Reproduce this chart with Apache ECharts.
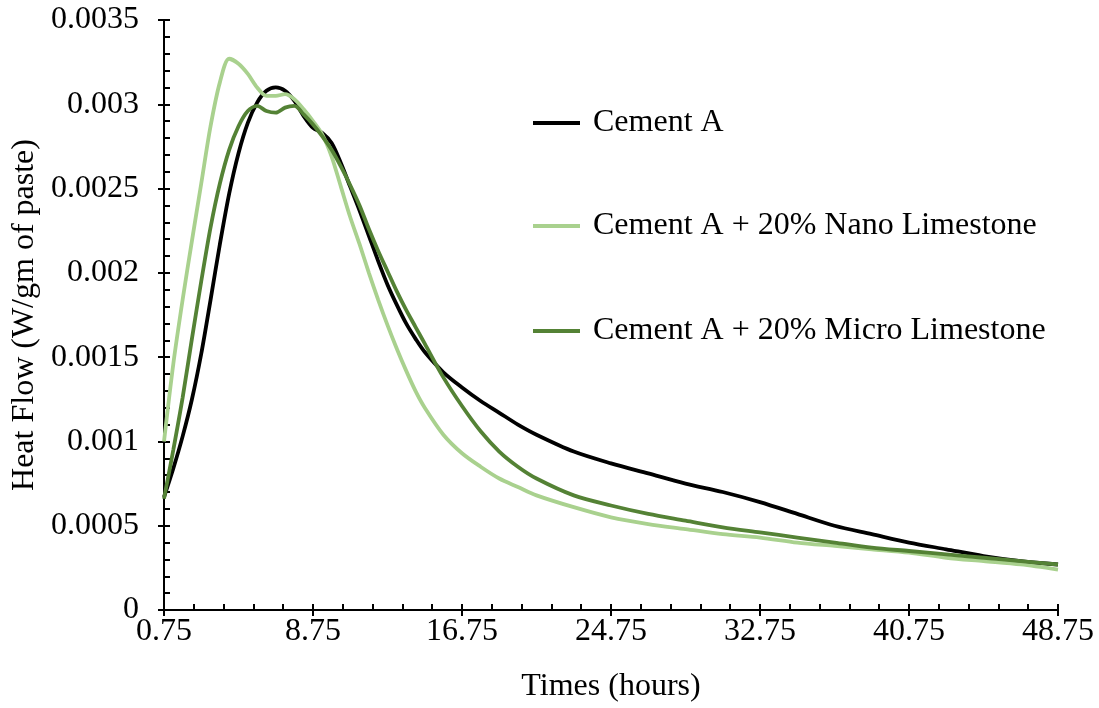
<!DOCTYPE html>
<html>
<head>
<meta charset="utf-8">
<title>Heat Flow</title>
<script src="https://cdn.jsdelivr.net/npm/echarts@6/dist/echarts.min.js"></script>
<style>
  html, body { margin: 0; padding: 0; background: #ffffff; }
  #chart { width: 1099px; height: 708px; }
</style>
</head>
<body>
<div id="chart"></div>
<script>
// Isothermal calorimetry: heat flow of cement pastes over the first two days.

// The time axis starts at the first reading (0.75 h); positions are measured from it.
const START_HOUR = 0.75;

const seriesNames = [
  'Cement A',
  'Cement A + 20% Nano Limestone',
  'Cement A + 20% Micro Limestone'
];

// Reading times (hours), shared by all three pastes
const hours = [
  0.75, 1.25, 1.75, 2.25, 2.75, 3.25, 3.75, 4.25, 4.75, 5.25, 5.75, 6.25, 6.75, 7.25, 7.75, 8.25,
  8.75, 9.25, 9.75, 10.25, 10.75, 11.25, 11.75, 12.25, 12.75, 13.25, 13.75, 14.25, 14.75,
  15.75, 16.75, 17.75, 18.75, 19.75, 20.75, 22.75, 24.75, 26.75, 28.75, 30.75, 32.75,
  34.75, 36.75, 38.75, 40.75, 42.75, 44.75, 46.75, 48.75
];

// Heat flow, W/gm of paste
const cementAFlow = [
  0.00067, 0.00084, 0.00103, 0.00125, 0.00152, 0.00184, 0.00217, 0.00247, 0.00271, 0.00289, 0.00301,
  0.00308, 0.00310, 0.00308, 0.00302, 0.00293, 0.00286, 0.00283, 0.00277, 0.00265, 0.00251, 0.00237,
  0.00222, 0.00207, 0.00193, 0.00181, 0.00170, 0.00161, 0.00153,
  0.00141, 0.00132, 0.00124, 0.00117, 0.00110, 0.00104, 0.00094, 0.00087, 0.00081, 0.00075, 0.00070,
  0.00064, 0.00057, 0.00050, 0.00045, 0.00040, 0.00036, 0.00032, 0.00029, 0.00027
];

const nanoFlow = [
  0.00100, 0.00146, 0.00184, 0.00219, 0.00253, 0.00287, 0.00313, 0.00327, 0.00324, 0.00318, 0.00310,
  0.00305, 0.00305, 0.00306, 0.00303, 0.00297, 0.00290, 0.00282, 0.00269, 0.00251, 0.00233, 0.00217,
  0.00200, 0.00184, 0.00169, 0.00155, 0.00142, 0.00130, 0.00120,
  0.00104, 0.00093, 0.00085, 0.00078, 0.00073, 0.00068, 0.00061, 0.00055, 0.00051, 0.00048, 0.00045,
  0.00043, 0.00040, 0.00038, 0.00036, 0.00034, 0.00031, 0.00029, 0.00027, 0.00024
];

const microFlow = [
  0.00066, 0.00095, 0.00126, 0.00161, 0.00195, 0.00227, 0.00253, 0.00273, 0.00287, 0.00296, 0.00299,
  0.00296, 0.00295, 0.00298, 0.00299, 0.00294, 0.00288, 0.00281, 0.00273, 0.00263, 0.00252, 0.00240,
  0.00226, 0.00213, 0.00201, 0.00189, 0.00178, 0.00168, 0.00158,
  0.00138, 0.00121, 0.00106, 0.00094, 0.00085, 0.00078, 0.00068, 0.00062, 0.00057, 0.00053, 0.00049,
  0.00046, 0.00043, 0.00040, 0.00037, 0.00035, 0.00033, 0.00031, 0.00029, 0.00027
];

const seriesColors = ['#000000', '#a9d18e', '#548235'];

const FONT = "'Liberation Serif', 'Times New Roman', serif";
const FONT_SIZE = 32;

function pairs(flows) {
  return hours.map((t, i) => [t - START_HOUR, flows[i]]);
}

const chart = echarts.init(document.getElementById('chart'), null, { renderer: 'canvas' });

const axisColor = '#000000';
const hourLabel = v => (v + START_HOUR).toFixed(2);
const flowLabel = v => String(parseFloat(v.toFixed(4)));

// vertical centre of each legend row
const legendRows = [123, 226, 331];

chart.setOption({
  animation: false,
  backgroundColor: '#ffffff',
  textStyle: { fontFamily: FONT, color: '#000000' },
  grid: { left: 164, right: 41, top: 20, bottom: 95, containLabel: false },
  legend: seriesNames.map((name, i) => ({
    data: [name],
    left: 528,
    top: legendRows[i] - 23,
    icon: 'rect',
    itemWidth: 47,
    itemHeight: 4,
    selectedMode: false,
    textStyle: { fontFamily: FONT, fontSize: FONT_SIZE, color: '#000000', padding: [0, 0, 0, 8], lineHeight: 36 }
  })),
  xAxis: [
    {
      type: 'value', min: 0, max: 48, interval: 8,
      name: 'Times (hours)', nameLocation: 'middle', nameGap: 61,
      nameTextStyle: { fontFamily: FONT, fontSize: FONT_SIZE, color: '#000000' },
      axisLine: { onZero: false, lineStyle: { color: axisColor, width: 2 } },
      axisTick: { show: true, inside: true, length: 6, lineStyle: { color: axisColor, width: 2 } },
      minorTick: { show: true, splitNumber: 5, length: 6, lineStyle: { color: axisColor, width: 2 } },
      axisLabel: { formatter: hourLabel, fontFamily: FONT, fontSize: FONT_SIZE, color: '#000000', margin: 6 },
      splitLine: { show: false }
    },
    {
      type: 'value', min: 0, max: 48, interval: 8, position: 'bottom',
      axisLine: { show: false, onZero: false },
      axisTick: { show: true, inside: false, length: 6, lineStyle: { color: axisColor, width: 2 } },
      axisLabel: { show: false },
      splitLine: { show: false }
    }
  ],
  yAxis: [
    {
      type: 'value', min: 0, max: 0.0035, interval: 0.0005,
      name: 'Heat Flow (W/gm of paste)', nameLocation: 'middle', nameGap: 123,
      nameTextStyle: { fontFamily: FONT, fontSize: FONT_SIZE, color: '#000000' },
      axisLine: { show: true, onZero: false, lineStyle: { color: axisColor, width: 2 } },
      axisTick: { show: true, inside: true, length: 6, lineStyle: { color: axisColor, width: 2 } },
      minorTick: { show: true, splitNumber: 5, length: 6, lineStyle: { color: axisColor, width: 2 } },
      axisLabel: { formatter: flowLabel, fontFamily: FONT, fontSize: FONT_SIZE, color: '#000000', margin: 25 },
      splitLine: { show: false }
    },
    {
      type: 'value', min: 0, max: 0.0035, interval: 0.0005, position: 'left',
      axisLine: { show: false, onZero: false },
      axisTick: { show: true, inside: false, length: 6, lineStyle: { color: axisColor, width: 2 } },
      axisLabel: { show: false },
      splitLine: { show: false }
    }
  ],
  series: [cementAFlow, nanoFlow, microFlow].map((f, i) => ({
    name: seriesNames[i],
    type: 'line',
    xAxisIndex: 0,
    yAxisIndex: 0,
    data: pairs(f),
    smooth: 0.3,
    symbol: 'none',
    showSymbol: false,
    color: seriesColors[i],
    itemStyle: { color: seriesColors[i] },
    lineStyle: { color: seriesColors[i], width: 3.8 },
    z: 2 + i
  }))
});
</script>
</body>
</html>
